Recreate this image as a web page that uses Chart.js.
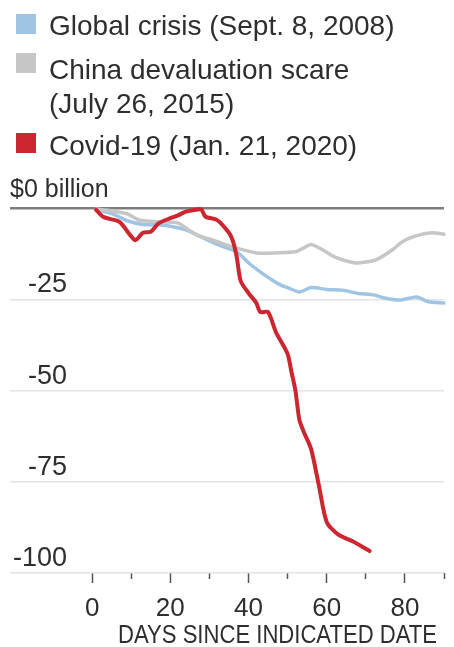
<!DOCTYPE html>
<html>
<head>
<meta charset="utf-8">
<script src="https://cdn.jsdelivr.net/npm/chart.js@4.4.1/dist/chart.umd.min.js"></script>
<style>
  html, body { margin: 0; padding: 0; background: #fff; }
  #wrap { position: relative; width: 454px; height: 647px; }
</style>
</head>
<body>
<div id="wrap"><canvas id="chart"></canvas></div>
<script>
// Series: days since date -> change, $ billion
const globalDays = [1, 5, 9, 13, 17, 21, 24, 28, 31, 34, 37, 40, 43, 45, 48, 50, 53, 56, 60, 64, 68, 72, 75, 79, 83, 86, 90];
const globalVals = [-0.5, -1.5, -3.5, -4.5, -4.6, -5.2, -6, -8, -9.5, -10.8, -12, -15, -17.5, -19, -21, -21.8, -23, -21.8, -22.3, -22.5, -23.4, -23.8, -24.7, -25.2, -24.4, -25.7, -26];

const chinaDays = [1, 5, 9, 12, 17, 22, 24, 27, 30, 33, 37, 42, 47, 52, 54, 56, 59, 62, 67, 70, 73, 77, 79, 81, 84, 87, 90];
const chinaVals = [-0.3, -0.8, -1.6, -3.3, -3.8, -4.1, -5.5, -7.5, -8.5, -9.6, -11, -12.3, -12.3, -12, -11, -10, -11.5, -13.4, -15, -14.8, -14, -11.3, -9.5, -8.3, -7.3, -6.8, -7.2];

const covidDays = [1, 3, 7, 11, 13, 15, 17, 20, 22, 24, 27, 28, 29, 32, 35, 36, 37, 38, 40, 42, 43, 45, 47, 50, 51, 52, 53, 54, 56, 58, 60, 63, 67, 71];
const covidVals = [-0.5, -2.5, -3.8, -8.8, -6.8, -6.5, -4.2, -2.8, -2, -1, -0.4, -0.5, -2.4, -3.3, -6.8, -9, -13.5, -20, -23.3, -26, -28.5, -28.5, -34, -40, -45, -50, -58, -61, -66, -76, -86, -89.5, -91.5, -94];

const seriesNames = [
  ['Global crisis (Sept. 8, 2008)'],
  ['China devaluation scare', '(July 26, 2015)'],
  ['Covid-19 (Jan. 21, 2020)']
];
const seriesColors = ['#9fc4e4', '#c6c6c6', '#cc2630'];

const yTicks = [0, -25, -50, -75, -100];
const yTickLabels = ['$0 billion', '-25', '-50', '-75', '-100'];
const xTickLabels = [0, 20, 40, 60, 80];
const xTitle = 'DAYS SINCE INDICATED DATE';

const pts = (xs, ys) => xs.map((x, i) => ({ x: x, y: ys[i] }));

const TEXT = '#2e2e2e';
const SANS = "'Liberation Sans', Arial, sans-serif";

// legend, y labels and axis title drawn on the canvas
const textPlugin = {
  id: 'wsjText',
  afterDraw(chart) {
    const ctx = chart.ctx;
    const ys = chart.scales.y;
    ctx.save();
    ctx.fillStyle = TEXT;
    ctx.textBaseline = 'alphabetic';

    // legend
    const rows = [{ box: 14, base: [35] }, { box: 53, base: [79, 113] }, { box: 133, base: [155] }];
    ctx.font = '28px ' + SANS;
    ctx.textAlign = 'left';
    seriesNames.forEach((lines, i) => {
      ctx.fillStyle = seriesColors[i];
      ctx.fillRect(16, rows[i].box, 20, 20);
      ctx.fillStyle = TEXT;
      lines.forEach((ln, j) => ctx.fillText(ln, 49, rows[i].base[j]));
    });

    // y tick labels above gridlines
    yTicks.forEach((v, i) => {
      const py = ys.getPixelForValue(v);
      if (v === 0) {
        ctx.font = '25px ' + SANS;
        ctx.textAlign = 'left';
        ctx.fillText(yTickLabels[i], 10, py - 11);
      } else {
        ctx.font = '27px ' + SANS;
        ctx.textAlign = 'right';
        ctx.fillText(yTickLabels[i], 67, py - 7);
      }
    });

    // x title, narrow face squeezed to the original width
    ctx.font = '26px ' + SANS;
    ctx.textAlign = 'right';
    const w = ctx.measureText(xTitle).width;
    ctx.translate(437, 643);
    ctx.scale(319 / w, 1);
    ctx.fillText(xTitle, 0, 0);
    ctx.restore();
  }
};

const lineStyle = {
  fill: false,
  pointRadius: 0,
  tension: 0.25,
  borderCapStyle: 'round',
  borderJoinStyle: 'round',
  clip: false
};

new Chart(document.getElementById('chart'), {
  type: 'line',
  data: {
    datasets: [
      Object.assign({ label: seriesNames[0].join(' '), data: pts(globalDays, globalVals), borderColor: seriesColors[0], borderWidth: 3.5, order: 3 }, lineStyle),
      Object.assign({ label: seriesNames[1].join(' '), data: pts(chinaDays, chinaVals), borderColor: seriesColors[1], borderWidth: 3.5, order: 2 }, lineStyle),
      Object.assign({ label: seriesNames[2].join(' '), data: pts(covidDays, covidVals), borderColor: seriesColors[2], borderWidth: 4, order: 1 }, lineStyle)
    ]
  },
  options: {
    responsive: true,
    maintainAspectRatio: false,
    animation: false,
    layout: { padding: { top: 208, left: 10, right: 0, bottom: 0 } },
    plugins: {
      legend: { display: false },
      tooltip: { enabled: false }
    },
    scales: {
      x: {
        type: 'linear',
        min: -21,
        max: 90,
        border: { display: false },
        grid: {
          drawOnChartArea: false,
          drawTicks: true,
          tickLength: 10,
          tickWidth: 1.5,
          tickColor: (c) => (c.tick && c.tick.value >= 0) ? '#555' : 'rgba(0,0,0,0)',
          tickBorderDash: (c) => (c.tick && c.tick.value % 20 !== 0) ? [6, 20] : []
        },
        ticks: {
          stepSize: 10,
          autoSkip: false,
          maxRotation: 0,
          padding: 10,
          color: TEXT,
          font: { family: SANS, size: 26 },
          callback: (v) => xTickLabels.includes(v) ? String(v) : ''
        },
        afterFit: (s) => { s.height = 74; }
      },
      y: {
        min: -100,
        max: 0,
        border: { display: false },
        grid: {
          drawTicks: false,
          color: (c) => c.tick && c.tick.value === 0 ? '#7d7d7d' : '#e3e3e3',
          lineWidth: (c) => c.tick && c.tick.value === 0 ? 2.5 : 1.5
        },
        ticks: { display: false, stepSize: 25 },
        afterFit: (s) => { s.width = 0; }
      }
    }
  },
  plugins: [textPlugin]
});
</script>
</body>
</html>
